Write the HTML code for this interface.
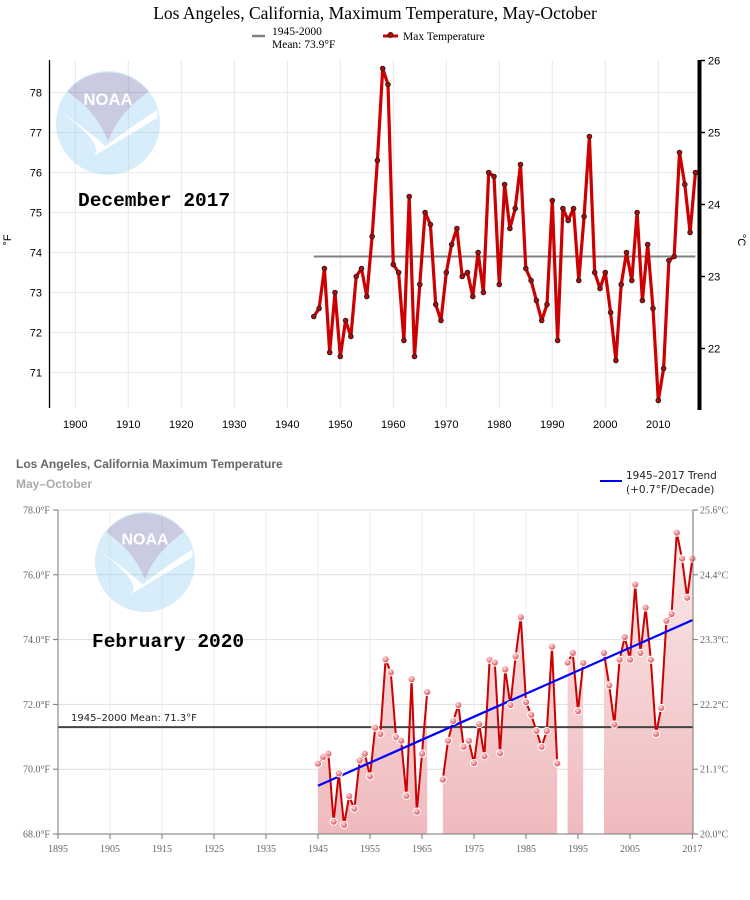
<!DOCTYPE html>
<html><head><meta charset="utf-8"><style>
body{margin:0;background:#fff;width:750px;height:900px;overflow:hidden}
svg{position:absolute;left:0;top:0}
</style></head><body>
<svg id="chart" width="750" height="900" xmlns="http://www.w3.org/2000/svg">
<rect width="750" height="900" fill="#fff"/>
<g id="top"></g>
<g id="bot"></g>
</svg>
<script>
// ---- Top chart data (1945-2017) ----
const topYears = [];
const topValues = [72.4,72.6,73.6,71.5,73.0,71.4,72.3,71.9,73.4,73.6,72.9,74.4,76.3,78.6,78.2,73.7,73.5,71.8,75.4,71.4,73.2,75.0,74.7,72.7,72.3,73.5,74.2,74.6,73.4,73.5,72.9,74.0,73.0,76.0,75.9,73.2,
75.7,74.6,75.1,76.2,73.6,73.3,72.8,72.3,72.7,75.3,71.8,75.1,74.8,75.1,73.3,74.9,76.9,73.5,73.1,73.5,72.5,71.3,73.2,74.0,73.3,75.0,72.8,74.2,72.6,70.3,71.1,73.8,73.9,76.5,75.7,74.5,76.0];
const topMean = 73.9;
const topXTicks = [1900,1910,1920,1930,1940,1950,1960,1970,1980,1990,2000,2010];
const topYTicks = [71,72,73,74,75,76,77,78];
const topCTicks = [22,23,24,25,26];
// ---- Bottom chart data ----
const botYears = [1945,1946,1947,1948,1949,1950,1951,1952,1953,1954,1955,1956,1957,1958,1959,1960,1961,1962,1963,1964,1965,1966,
1969,1970,1971,1972,1973,1974,1975,1976,1977,1978,1979,1980,1981,1982,1983,1984,1985,1986,1987,1988,1989,1990,1991,
1993,1994,1995,1996,
2000,2001,2002,2003,2004,2005,2006,2007,2008,2009,2010,2011,2012,2013,2014,2015,2016,2017];
const botValues = [70.17,70.38,70.48,68.38,69.87,68.28,69.17,68.78,70.27,70.48,69.78,71.28,71.09,73.39,72.99,70.99,70.88,69.18,72.78,68.69,70.48,72.38,
69.68,70.88,71.49,71.98,70.69,70.88,70.19,71.39,70.40,73.38,73.29,70.49,73.08,71.98,73.48,74.69,72.07,71.68,71.18,70.69,71.18,73.78,70.18,
73.29,73.59,71.79,73.28,
73.59,72.59,71.38,73.38,74.08,73.38,75.70,73.59,74.99,73.38,71.09,71.89,74.58,74.79,77.30,76.50,75.29,76.50];
const botMean = 71.3;
const trendYears = [1945,2017];
const trendValues = [69.49,74.6];
const botXTicks = [1895,1905,1915,1925,1935,1945,1955,1965,1975,1985,1995,2005,2017];
const botYTicks = [68,70,72,74,76,78];
const botCLabels = ["20.0°C","21.1°C","22.2°C","23.3°C","24.4°C","25.6°C"];
for (let y = 1945; y <= 2017; y++) topYears.push(y);

const NS = "http://www.w3.org/2000/svg";
function mk(parent, tag, attrs, text){const e=document.createElementNS(NS,tag);for(const k in attrs)e.setAttribute(k,attrs[k]);if(text!==undefined)e.textContent=text;parent.appendChild(e);return e;}

// ===== TOP =====
const T = document.getElementById('top');
const tx = y => 75.3 + (y-1900)*5.3;
const ty = v => 92.5 + (78-v)*40;
let e;
e = mk(T,'text',{x:375,y:19,'text-anchor':'middle','font-family':'Liberation Serif, serif','font-size':'17.5',fill:'#000'},'Los Angeles, California, Maximum Temperature, May-October');


// legend
e = mk(T,'line',{x1:252,y1:36,x2:265,y2:36,stroke:'#808080','stroke-width':2.5});


e = mk(T,'text',{x:272,y:35,'font-family':'Liberation Serif, serif','font-size':'11.5'},'1945-2000');


mk(T,'text',{x:272,y:48,'font-family':'Liberation Serif, serif','font-size':'11.5'},'Mean: 73.9°F');
e = mk(T,'line',{x1:383,y1:36,x2:398,y2:36,stroke:'#c00','stroke-width':3});


mk(T,'circle',{cx:390.5,cy:35,r:2.5,fill:'#c00',stroke:'#222','stroke-width':1});
e = mk(T,'text',{x:403,y:40,'font-family':'Liberation Serif, serif','font-size':'11.5'},'Max Temperature');


// grid
topYTicks.forEach(v=>{
  e = mk(T,'line',{x1:50,x2:698,y1:ty(v),y2:ty(v),stroke:'#e8e8e8','stroke-width':1});
  
  
  e = mk(T,'text',{x:42,y:ty(v)+4,'text-anchor':'end','font-family':'Liberation Sans, sans-serif','font-size':'11',fill:'#000'},String(v));
  
  
});
topXTicks.forEach(y=>{
  e = mk(T,'line',{x1:tx(y),x2:tx(y),y1:60,y2:408,stroke:'#e8e8e8','stroke-width':1});
  
  
  e = mk(T,'text',{x:tx(y),y:428,'text-anchor':'middle','font-family':'Liberation Sans, sans-serif','font-size':'11',fill:'#000'},String(y));
  
  
});
// logo top
function logo(g,cx,cy,r){
  const lg = mk(g,'g',{opacity:0.35});
  
  
  mk(lg,'circle',{cx:cx,cy:cy,r:r,fill:'#8fcdf0'});
  mk(lg,'path',{d:`M${cx-r*0.78} ${cy-r*0.6} A${r} ${r} 0 0 1 ${cx+r*0.78} ${cy-r*0.6} Q${cx+r*0.2} ${cy-r*0.2} ${cx} ${cy+r*0.35} Q${cx-r*0.2} ${cy-r*0.2} ${cx-r*0.78} ${cy-r*0.6}Z`,fill:'#6a6aa8'});
  mk(lg,'path',{d:`M${cx-r*0.95} ${cy-r*0.25} Q${cx-r*0.3} ${cy+r*0.2} ${cx-r*0.05} ${cy+r*0.45} Q${cx+r*0.4} ${cy+r*0.1} ${cx+r*0.95} ${cy-r*0.25} L${cx+r*0.95} ${cy-r*0.1} Q${cx+r*0.3} ${cy+r*0.3} ${cx-r*0.3} ${cy+r*0.65} Q${cx} ${cy+r*0.45} ${cx-r*0.95} ${cy-r*0.25}Z`,fill:'#fff'});
  mk(lg,'text',{x:cx,y:cy-r*0.35,'text-anchor':'middle','font-family':'Liberation Sans, sans-serif','font-weight':'bold','font-size':r*0.32,fill:'#fff'},'NOAA');
}
logo(T,108,123,52);
// mean line
e = mk(T,'line',{x1:tx(1945),x2:tx(2017),y1:ty(topMean),y2:ty(topMean),stroke:'#808080','stroke-width':2});


// series
e = mk(T,'polyline',{points:topYears.map((y,i)=>tx(y)+','+ty(topValues[i])).join(' '),fill:'none',stroke:'#c00','stroke-width':3.2,'stroke-linejoin':'round'});


topYears.forEach((y,i)=>{
  e = mk(T,'circle',{cx:tx(y),cy:ty(topValues[i]),r:2.3,fill:'#c00',stroke:'#222','stroke-width':1});
  
  
});
// axes
e = mk(T,'line',{x1:49.5,x2:49.5,y1:60,y2:408,stroke:'#000','stroke-width':1.3});


e = mk(T,'line',{x1:699.5,x2:699.5,y1:60,y2:410,stroke:'#000','stroke-width':4});


topCTicks.forEach(c=>{
  const f = c*9/5+32;
  mk(T,'line',{x1:701,x2:705,y1:ty(f),y2:ty(f),stroke:'#000','stroke-width':1.5});
  e = mk(T,'text',{x:708,y:ty(f)+4,'font-family':'Liberation Sans, sans-serif','font-size':'11',fill:'#000'},String(c));
  
  
});
e = mk(T,'text',{x:11,y:240,'text-anchor':'middle','font-family':'Liberation Sans, sans-serif','font-size':'11',transform:'rotate(-90 11 240)'},'°F');


e = mk(T,'text',{x:738,y:240,'text-anchor':'middle','font-family':'Liberation Sans, sans-serif','font-size':'11',transform:'rotate(90 738 240)'},'°C');


e = mk(T,'text',{x:78,y:206,'font-family':'Liberation Mono, monospace','font-weight':'bold','font-size':'19.5',fill:'#000'},'December 2017');



// ===== BOTTOM =====
const B = document.getElementById('bot');
const bx = y => 58 + (y-1895)*5.2;
const by = v => 510 + (78-v)*32.4;
e = mk(B,'text',{x:16,y:468,'font-family':'Liberation Sans, sans-serif','font-weight':'bold','font-size':'12',fill:'#666'},'Los Angeles, California Maximum Temperature');


e = mk(B,'text',{x:16,y:488,'font-family':'Liberation Sans, sans-serif','font-weight':'bold','font-size':'12',fill:'#aaa'},'May–October');


e = mk(B,'line',{x1:600,x2:622,y1:481,y2:481,stroke:'#00f','stroke-width':2});


e = mk(B,'text',{x:626,y:479,'font-family':'DejaVu Sans, sans-serif','font-size':'10.5',fill:'#222'},'1945–2017 Trend');


mk(B,'text',{x:626,y:493,'font-family':'DejaVu Sans, sans-serif','font-size':'10.5',fill:'#222'},'(+0.7°F/Decade)');
const defs = mk(B,'defs',{});
const gr = mk(defs,'linearGradient',{id:'pg',x1:0,y1:0,x2:0,y2:1,gradientUnits:'userSpaceOnUse'});
gr.setAttribute('y1',by(77.3));gr.setAttribute('y2',by(68));
mk(gr,'stop',{offset:0,'stop-color':'#fbe9ea'});
mk(gr,'stop',{offset:1,'stop-color':'#efbabd'});
const bg = mk(defs,'radialGradient',{id:'ball',cx:'40%',cy:'35%',r:'65%'});
mk(bg,'stop',{offset:0,'stop-color':'#ffe0e0'});
mk(bg,'stop',{offset:1,'stop-color':'#d9454d'});
// grid
botYTicks.forEach((v,i)=>{
  e = mk(B,'line',{x1:58,x2:693,y1:by(v),y2:by(v),stroke:'#ddd','stroke-width':1});
  
  
  mk(B,'line',{x1:53,x2:58,y1:by(v),y2:by(v),stroke:'#777'});
  mk(B,'line',{x1:693,x2:698,y1:by(v),y2:by(v),stroke:'#777'});
  e = mk(B,'text',{x:50,y:by(v)+3.5,'text-anchor':'end','font-family':'Liberation Serif, serif','font-size':'10',fill:'#666'},v.toFixed(1)+'°F');
  
  
  e = mk(B,'text',{x:700,y:by(v)+3.5,'font-family':'Liberation Serif, serif','font-size':'10',fill:'#666'},botCLabels[i]);
  
  
});
botXTicks.forEach(y=>{
  e = mk(B,'line',{x1:bx(y),x2:bx(y),y1:510,y2:834,stroke:'#eee','stroke-width':1});
  
  
  mk(B,'line',{x1:bx(y),x2:bx(y),y1:834,y2:839,stroke:'#777'});
  e = mk(B,'text',{x:bx(y),y:852,'text-anchor':'middle','font-family':'Liberation Serif, serif','font-size':'10',fill:'#666'},String(y));
  
  
});
logo(B,145,562,50);
// segments
const segs=[];let cur=[];
botYears.forEach((y,i)=>{ if(cur.length && y!==botYears[i-1]+1){segs.push(cur);cur=[];} cur.push(i); });
segs.push(cur);
segs.forEach(s=>{
  let d = 'M'+bx(botYears[s[0]])+','+by(68);
  s.forEach(i=>{ d += ' L'+bx(botYears[i])+','+by(botValues[i]); });
  d += ' L'+bx(botYears[s[s.length-1]])+','+by(68)+'Z';
  e = mk(B,'path',{d:d,fill:'url(#pg)'});
  
  
});
e = mk(B,'line',{x1:58,x2:693,y1:by(botMean),y2:by(botMean),stroke:'#444','stroke-width':2});


e = mk(B,'text',{x:71,y:by(botMean)-6,'font-family':'DejaVu Sans, sans-serif','font-size':'10',fill:'#222'},'1945–2000 Mean: 71.3°F');


segs.forEach(s=>{
  e = mk(B,'polyline',{points:s.map(i=>bx(botYears[i])+','+by(botValues[i])).join(' '),fill:'none',stroke:'#c00','stroke-width':2});
  
  
});
e = mk(B,'line',{x1:bx(trendYears[0]),y1:by(trendValues[0]),x2:bx(trendYears[1]),y2:by(trendValues[1]),stroke:'#00f','stroke-width':2.2});


botYears.forEach((y,i)=>{
  e = mk(B,'circle',{cx:bx(y),cy:by(botValues[i]),r:3.6,fill:'url(#ball)',stroke:'#fff','stroke-width':1});
  
  
});
e = mk(B,'line',{x1:58,x2:58,y1:510,y2:834,stroke:'#777','stroke-width':1});


mk(B,'line',{x1:693,x2:693,y1:510,y2:834,stroke:'#777','stroke-width':1});
e = mk(B,'line',{x1:58,x2:693,y1:834,y2:834,stroke:'#777','stroke-width':1});


e = mk(B,'text',{x:92,y:647,'font-family':'Liberation Mono, monospace','font-weight':'bold','font-size':'19.5',fill:'#000'},'February 2020');


</script>
</body></html>
